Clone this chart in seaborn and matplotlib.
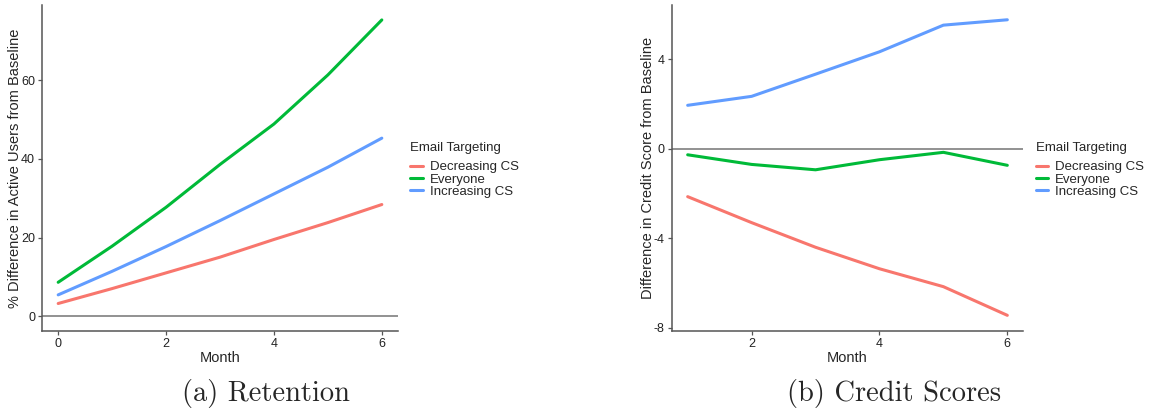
import matplotlib
matplotlib.use("Agg")
import matplotlib.pyplot as plt
import seaborn as sns
import pandas as pd

# Retention: % difference in active users by month
ret_months = [0, 1, 2, 3, 4, 5, 6]
ret_decreasing = [3.2, 7.0, 11.0, 15.0, 19.5, 23.8, 28.4]
ret_everyone = [8.6, 17.8, 27.7, 38.6, 48.9, 61.4, 75.4]
ret_increasing = [5.4, 11.4, 17.7, 24.3, 31.1, 37.9, 45.3]

# Credit scores: difference in credit score by month
cs_months = [1, 2, 3, 4, 5, 6]
cs_decreasing = [-2.14, -3.30, -4.40, -5.36, -6.16, -7.44]
cs_everyone = [-0.27, -0.70, -0.94, -0.49, -0.16, -0.74]
cs_increasing = [1.94, 2.34, 3.33, 4.33, 5.52, 5.76]

groups = ["Decreasing CS", "Everyone", "Increasing CS"]
palette = {"Decreasing CS": "#F8766D", "Everyone": "#00BA38", "Increasing CS": "#619CFF"}

ret_yticks = [0, 20, 40, 60]
ret_xticks = [0, 2, 4, 6]
cs_yticks = [-8, -4, 0, 4]
cs_xticks = [2, 4, 6]


def long_frame(months, series):
    rows = []
    for g, vals in zip(groups, series):
        for m, v in zip(months, vals):
            rows.append({"Month": m, "value": v, "Email Targeting": g})
    return pd.DataFrame(rows)


ret_df = long_frame(ret_months, [ret_decreasing, ret_everyone, ret_increasing])
cs_df = long_frame(cs_months, [cs_decreasing, cs_everyone, cs_increasing])

sns.set_theme(style="white")
plt.rcParams["font.family"] = ["Liberation Sans", "DejaVu Sans"]
plt.rcParams["axes.unicode_minus"] = False

fig = plt.figure(figsize=(11.53, 4.13), dpi=100)
W, H = 1153, 413
ax1 = fig.add_axes([42 / W, (H - 331) / H, 356 / W, 326 / H])
ax2 = fig.add_axes([671.7 / W, (H - 331) / H, 351.6 / W, 326 / H])


def style_axis(ax, df, xticks, yticks, ylabel, xlim, ylim):
    ax.axhline(0, color="#7f7f7f", lw=1.2, zorder=1)
    sns.lineplot(data=df, x="Month", y="value", hue="Email Targeting",
                 hue_order=groups, palette=palette, lw=2.2, ax=ax, zorder=3)
    ax.set_xlim(*xlim)
    ax.set_ylim(*ylim)
    ax.set_xticks(xticks)
    ax.set_yticks(yticks)
    ax.set_xlabel("Month", fontsize=10.5, labelpad=1)
    ax.set_ylabel(ylabel, fontsize=10.5, labelpad=-1)
    for s in ["top", "right"]:
        ax.spines[s].set_visible(False)
    for s in ["left", "bottom"]:
        ax.spines[s].set_color("#555555")
        ax.spines[s].set_linewidth(1.1)
    ax.tick_params(axis="both", which="major", length=3, width=0.9,
                   color="#555555", labelsize=9, labelcolor="#222222",
                   left=True, bottom=True, pad=2)
    leg = ax.legend(title="Email Targeting", loc="upper left",
                    bbox_to_anchor=(1.02, 0.595), frameon=False,
                    fontsize=9.5, title_fontsize=9.5, handlelength=0.95,
                    handletextpad=0.5, labelspacing=0.0, borderaxespad=0)
    leg._legend_box.align = "left"
    leg._legend_box.sep = 5
    for line in leg.get_lines():
        line.set_linewidth(2.2)


style_axis(ax1, ret_df, ret_xticks, ret_yticks,
           "% Difference in Active Users from Baseline", (-0.3, 6.3), (-3.8, 79.2))
style_axis(ax2, cs_df, cs_xticks, cs_yticks,
           "Difference in Credit Score from Baseline", (0.75, 6.25), (-8.14, 6.42))

fig.text(266 / W, 1 - 393 / H, "(a) Retention", ha="center", va="center",
         fontsize=20.5, family="cmr10")
fig.text(894 / W, 1 - 393 / H, "(b) Credit Scores", ha="center", va="center",
         fontsize=20.5, family="cmr10")

fig.savefig("out.png", dpi=100, facecolor="white")
